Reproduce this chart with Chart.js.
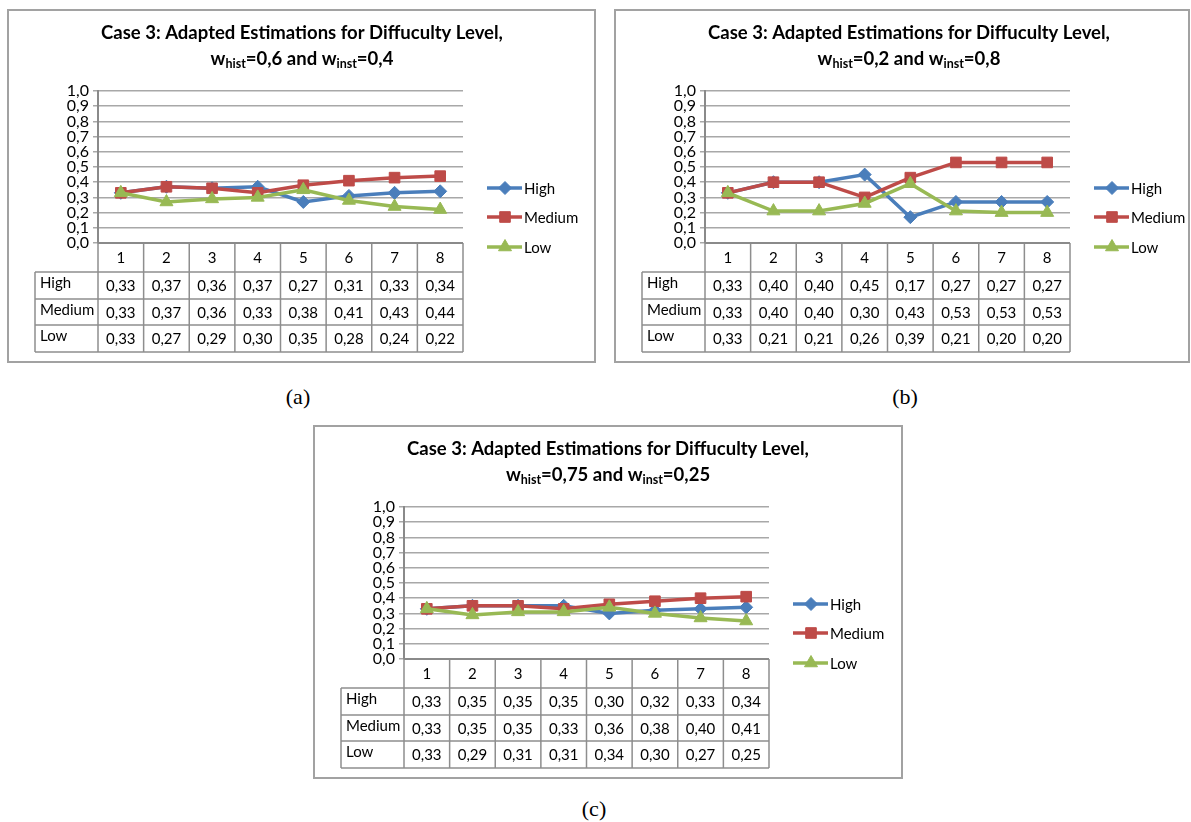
<!DOCTYPE html>
<html><head><meta charset="utf-8">
<script src="https://cdn.jsdelivr.net/npm/chart.js@4.4.1/dist/chart.umd.min.js"></script>
<style>
html,body{margin:0;padding:0;background:#fff;}
body{width:1191px;height:822px;position:relative;overflow:hidden;font-family:Lato,sans-serif;}
.box{position:absolute;border:2px solid #a2a2a2;box-sizing:border-box;background:#fff;}
.box canvas{position:absolute;left:0;top:0;}
.cap{position:absolute;font-family:"Liberation Serif","DejaVu Serif",serif;font-size:22px;color:#000;transform:translate(-50%,-50%);white-space:nowrap;}
</style></head><body>
<div class="box" style="left:7px;top:9px;width:589px;height:354px"><canvas id="cA" width="585" height="350"></canvas></div>
<div class="box" style="left:614px;top:9px;width:576px;height:354px"><canvas id="cB" width="572" height="350"></canvas></div>
<div class="box" style="left:313px;top:425px;width:590px;height:354px"><canvas id="cC" width="586" height="350"></canvas></div>
<div class="cap" style="left:298px;top:397px">(a)</div>
<div class="cap" style="left:905px;top:397px">(b)</div>
<div class="cap" style="left:594px;top:809px">(c)</div>
<script>
// ---- data ----
const categories = ['1','2','3','4','5','6','7','8'];
const seriesNames = ['High','Medium','Low'];
const titleText = 'Case 3: Adapted Estimations for Diffuculty Level,';
const wHistLabels = ['0,6','0,2','0,75'];
const wInstLabels = ['0,4','0,8','0,25'];

const highA   = [0.33,0.37,0.36,0.37,0.27,0.31,0.33,0.34];
const mediumA = [0.33,0.37,0.36,0.33,0.38,0.41,0.43,0.44];
const lowA    = [0.33,0.27,0.29,0.30,0.35,0.28,0.24,0.22];

const highB   = [0.33,0.40,0.40,0.45,0.17,0.27,0.27,0.27];
const mediumB = [0.33,0.40,0.40,0.30,0.43,0.53,0.53,0.53];
const lowB    = [0.33,0.21,0.21,0.26,0.39,0.21,0.20,0.20];

const highC   = [0.33,0.35,0.35,0.35,0.30,0.32,0.33,0.34];
const mediumC = [0.33,0.35,0.35,0.33,0.36,0.38,0.40,0.41];
const lowC    = [0.33,0.29,0.31,0.31,0.34,0.30,0.27,0.25];

const yMin = 0, yMax = 1, yStep = 0.1;

// ---- styles ----
const seriesColors = ['#4A7EBB','#BE4B48','#98B954'];
const seriesMarkers = ['rectRot','rect','triangle'];
const markerRadius = [6.5,7.5,7.5];
const FONT = 'Lato, "Open Sans", sans-serif';
const GRID = '#a8a8a8', AXIS = '#8a8a8a', TABLE = '#8e8e8e';
const TXT = 15, TICK = 16, TITLE = 18.5, SUB = 12.5;

function fmt(v, d){ return v.toFixed(d).replace('.', ','); }

function drawMarker(ctx, style, x, y, r, color){
  ctx.save();
  ctx.fillStyle = color; ctx.strokeStyle = color; ctx.lineWidth = 1;
  ctx.beginPath();
  if (style === 'rectRot'){
    ctx.moveTo(x-r,y); ctx.lineTo(x,y-r); ctx.lineTo(x+r,y); ctx.lineTo(x,y+r);
  } else if (style === 'rect'){
    const s = r*Math.SQRT1_2; ctx.rect(x-s,y-s,2*s,2*s);
  } else {
    let a = 0;
    ctx.moveTo(x+Math.sin(a)*r, y-Math.cos(a)*r); a += 2*Math.PI/3;
    ctx.lineTo(x+Math.sin(a)*r, y-Math.cos(a)*r); a += 2*Math.PI/3;
    ctx.lineTo(x+Math.sin(a)*r, y-Math.cos(a)*r);
  }
  ctx.closePath(); ctx.fill(); ctx.stroke(); ctx.restore();
}

const excelExtras = {
  id: 'excelExtras',
  afterDraw(chart, args, opts){
    const ctx = chart.ctx;
    const area = chart.chartArea;
    const xs = chart.scales.x;
    const ds = chart.data.datasets;
    ctx.save();
    // ---- title ----
    const cx = opts.titleX;
    ctx.fillStyle = '#000';
    ctx.textBaseline = 'middle';
    ctx.textAlign = 'center';
    ctx.font = 'bold ' + TITLE + 'px ' + FONT;
    ctx.fillText(titleText, cx, opts.titleY1);
    const segs = [
      {t:'w', sub:false},{t:'hist', sub:true},{t:'='+opts.wHist+' and w', sub:false},
      {t:'inst', sub:true},{t:'='+opts.wInst, sub:false}
    ];
    const bigF = 'bold ' + TITLE + 'px ' + FONT, subF = 'bold ' + SUB + 'px ' + FONT;
    let total = 0;
    segs.forEach(s => { ctx.font = s.sub ? subF : bigF; s.w = ctx.measureText(s.t).width; total += s.w; });
    let px = cx - total/2;
    ctx.textAlign = 'left';
    segs.forEach(s => {
      ctx.font = s.sub ? subF : bigF;
      ctx.fillText(s.t, px, opts.titleY2 + (s.sub ? 4.5 : 0));
      px += s.w;
    });

    // ---- data table ----
    const n = chart.data.labels.length;
    const colW = (area.right - area.left) / n;
    const headTop = area.bottom, headBot = area.bottom + 29;
    const rowH = [27, 26, 27];
    const rowTops = [headBot, headBot + rowH[0], headBot + rowH[0] + rowH[1]];
    const tableBot = rowTops[2] + rowH[2];
    const labLeft = area.left - 63;
    ctx.strokeStyle = TABLE; ctx.lineWidth = 1.5;
    ctx.beginPath();
    for (let i = 0; i <= n; i++){
      const vx = area.left + i*colW;
      ctx.moveTo(vx, headTop); ctx.lineTo(vx, tableBot);
    }
    ctx.moveTo(labLeft, headBot); ctx.lineTo(labLeft, tableBot);
    ctx.moveTo(labLeft, headBot); ctx.lineTo(area.right, headBot);
    rowTops.forEach((t, k) => { if (k > 0){ ctx.moveTo(labLeft, t); ctx.lineTo(area.right, t); } });
    ctx.moveTo(labLeft, tableBot); ctx.lineTo(area.right, tableBot);
    ctx.stroke();
    ctx.strokeStyle = AXIS; ctx.lineWidth = 2;
    ctx.beginPath(); ctx.moveTo(area.left, headTop); ctx.lineTo(area.right, headTop); ctx.stroke();

    ctx.fillStyle = '#000';
    ctx.font = TXT + 'px ' + FONT;
    ctx.textAlign = 'center';
    chart.data.labels.forEach((lab, i) => {
      ctx.fillText(lab, xs.getPixelForValue(i), (headTop + headBot)/2 + 1);
    });
    ds.forEach((d, k) => {
      const mid = rowTops[k] + rowH[k]/2;
      ctx.textAlign = 'left';
      ctx.fillText(d.label, labLeft + 5, mid - 2);
      ctx.textAlign = 'center';
      d.data.forEach((v, i) => ctx.fillText(fmt(v, 2), xs.getPixelForValue(i), mid + 1));
    });

    // ---- legend ----
    ds.forEach((d, k) => {
      const ly = opts.legendY[k];
      ctx.strokeStyle = d.borderColor; ctx.lineWidth = 3.5;
      ctx.beginPath(); ctx.moveTo(opts.legendX, ly); ctx.lineTo(opts.legendX + 35, ly); ctx.stroke();
      drawMarker(ctx, d.pointStyle, opts.legendX + 18, ly, d.pointRadius, d.borderColor);
      ctx.fillStyle = '#000'; ctx.font = TXT + 'px ' + FONT; ctx.textAlign = 'left';
      ctx.fillText(d.label, opts.legendX + 37, ly + 1);
    });
    ctx.restore();
  }
};

function makeChart(id, seriesData, wHist, wInst){
  const canvas = document.getElementById(id);
  const W = canvas.width, H = canvas.height;
  const plotLeft = 89, plotRight = 454, plotTop = 80, plotBottom = 232, yAxisW = 36;
  const datasets = seriesData.map((arr, k) => ({
    label: seriesNames[k],
    data: arr,
    borderColor: seriesColors[k],
    backgroundColor: seriesColors[k],
    pointBackgroundColor: seriesColors[k],
    pointBorderColor: seriesColors[k],
    pointStyle: seriesMarkers[k],
    pointRadius: markerRadius[k],
    pointBorderWidth: 1,
    borderWidth: 3.5,
    tension: 0,
    fill: false,
    order: 3 - k,
    clip: false
  }));
  return new Chart(canvas, {
    type: 'line',
    data: { labels: categories, datasets },
    options: {
      responsive: false,
      animation: false,
      events: [],
      layout: { padding: { left: plotLeft - yAxisW, right: W - plotRight, top: plotTop, bottom: H - plotBottom } },
      plugins: {
        legend: { display: false },
        title: { display: false },
        tooltip: { enabled: false },
        excelExtras: { wHist, wInst, titleX: 293, titleY1: 22, titleY2: 48, legendX: 478, legendY: [177, 206, 236] }
      },
      scales: {
        x: { type: 'category', offset: true, display: false },
        y: {
          min: yMin, max: yMax,
          afterFit(scale){ scale.width = yAxisW; },
          ticks: {
            stepSize: yStep, autoSkip: false, padding: 4, color: '#000',
            font: { family: FONT, size: TICK, lineHeight: 0.9 },
            callback: (v) => fmt(v, 1)
          },
          grid: { color: GRID, lineWidth: 1.5, tickLength: 5, drawTicks: true },
          border: { display: true, color: AXIS, width: 2 }
        }
      }
    },
    plugins: [excelExtras]
  });
}

makeChart('cA', [highA, mediumA, lowA], wHistLabels[0], wInstLabels[0]);
makeChart('cB', [highB, mediumB, lowB], wHistLabels[1], wInstLabels[1]);
makeChart('cC', [highC, mediumC, lowC], wHistLabels[2], wInstLabels[2]);
</script>
</body></html>
